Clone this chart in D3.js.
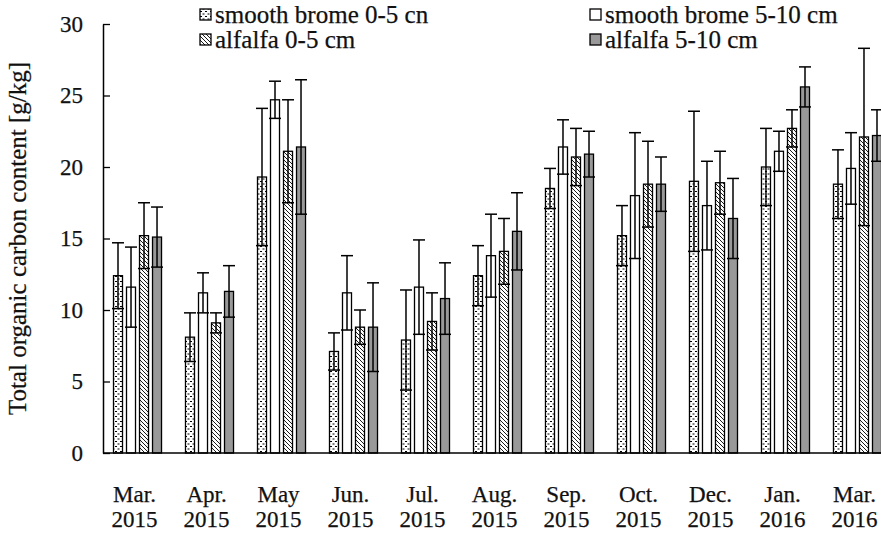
<!DOCTYPE html>
<html>
<head>
<meta charset="utf-8">
<script src="https://cdn.jsdelivr.net/npm/d3@7"></script>
<style>
  body { margin: 0; background: #fff; }
  text { font-family: "Liberation Serif", "Times New Roman", serif; fill: #111; stroke: #111; stroke-width: 0.25px; }
</style>
</head>
<body>
<div id="chart"></div>
<script>
// data (mean and standard deviation, g/kg)
var months = ["Mar.", "Apr.", "May", "Jun.", "Jul.", "Aug.", "Sep.", "Oct.", "Dec.", "Jan.", "Mar."];
var years = ["2015", "2015", "2015", "2015", "2015", "2015", "2015", "2015", "2015", "2016", "2016"];
var seriesNames = ["smooth brome 0-5 cn", "smooth brome 5-10 cm", "alfalfa 0-5 cm", "alfalfa 5-10 cm"];

var sb05Mean = [12.4, 8.1, 19.3, 7.1, 7.9, 12.4, 18.5, 15.2, 19.0, 20.0, 18.8];
var sb05Sd = [2.3, 1.7, 4.8, 1.3, 3.5, 2.1, 1.4, 2.1, 4.9, 2.7, 2.4];
var sb510Mean = [11.6, 11.2, 24.7, 11.2, 11.6, 13.8, 21.4, 18.0, 17.3, 21.1, 19.9];
var sb510Sd = [2.8, 1.4, 1.3, 2.6, 3.3, 2.9, 1.9, 4.4, 3.1, 1.4, 2.5];
var alf05Mean = [15.2, 9.1, 21.1, 8.8, 9.2, 14.1, 20.7, 18.8, 18.9, 22.7, 22.1];
var alf05Sd = [2.3, 0.7, 3.6, 1.2, 2.0, 2.3, 2.0, 3.0, 2.2, 1.3, 6.2];
var alf510Mean = [15.1, 11.3, 21.4, 8.8, 10.8, 15.5, 20.9, 18.8, 16.4, 25.6, 22.2];
var alf510Sd = [2.1, 1.8, 4.7, 3.1, 2.5, 2.7, 1.6, 1.9, 2.8, 1.4, 1.8];

var yTicks = [0, 5, 10, 15, 20, 25, 30];

var CONFIG = { width: 881, height: 533, left: 103, top: 24, bottom: 453, bandStart: 101.5, bandEnd: 893.5 };

var means = [sb05Mean, sb510Mean, alf05Mean, alf510Mean];
var sds = [sb05Sd, sb510Sd, alf05Sd, alf510Sd];
var fills = ["url(#dash)", "#ffffff", "url(#hatch)", "#999999"];

var rows = [];
months.forEach(function (m, i) {
  seriesNames.forEach(function (s, j) {
    rows.push({ group: i, series: j, mean: means[j][i], sd: sds[j][i] });
  });
});

var svg = d3.select("#chart").append("svg")
  .attr("width", CONFIG.width)
  .attr("height", CONFIG.height);

var defs = svg.append("defs");

// small staggered dashes, smooth brome 0-5
var dash = defs.append("pattern")
  .attr("id", "dash")
  .attr("patternUnits", "userSpaceOnUse")
  .attr("width", 5).attr("height", 5);
dash.append("rect").attr("width", 5).attr("height", 5).attr("fill", "#fff");
dash.append("path")
  .attr("d", "M0,1.5h2 M2.5,4h2")
  .attr("stroke", "#000").attr("stroke-width", 1);

// diagonal hatch, alfalfa 0-5
var hatch = defs.append("pattern")
  .attr("id", "hatch")
  .attr("patternUnits", "userSpaceOnUse")
  .attr("width", 4).attr("height", 4);
hatch.append("rect").attr("width", 4).attr("height", 4).attr("fill", "#fff");
hatch.append("path")
  .attr("d", "M0,0L4,4 M-1,3L1,5 M3,-1L5,1")
  .attr("stroke", "#000").attr("stroke-width", 0.9);

var x0 = d3.scaleBand()
  .domain(d3.range(months.length))
  .range([CONFIG.bandStart, CONFIG.bandEnd])
  .paddingInner(0.333)
  .paddingOuter(0.1667);

var x1 = d3.scaleBand()
  .domain(d3.range(seriesNames.length))
  .range([0, x0.bandwidth()])
  .paddingInner(0.308);

var y = d3.scaleLinear()
  .domain([0, 30])
  .range([CONFIG.bottom, CONFIG.top]);

// bars
svg.append("g")
  .selectAll("rect")
  .data(rows)
  .enter().append("rect")
  .attr("x", d => x0(d.group) + x1(d.series))
  .attr("y", d => y(d.mean))
  .attr("width", x1.bandwidth())
  .attr("height", d => y(0) - y(d.mean))
  .attr("fill", d => fills[d.series])
  .attr("stroke", "#000")
  .attr("stroke-width", 1.3);

// error bars
var capW = 12;
var err = svg.append("g")
  .attr("stroke", "#000")
  .attr("stroke-width", 1.5);

err.selectAll("line.v")
  .data(rows)
  .enter().append("line")
  .classed("v", true)
  .attr("x1", d => x0(d.group) + x1(d.series) + x1.bandwidth() / 2)
  .attr("x2", d => x0(d.group) + x1(d.series) + x1.bandwidth() / 2)
  .attr("y1", d => y(d.mean - d.sd))
  .attr("y2", d => y(d.mean + d.sd));

err.selectAll("line.top")
  .data(rows)
  .enter().append("line")
  .classed("top", true)
  .attr("x1", d => x0(d.group) + x1(d.series) + x1.bandwidth() / 2 - capW / 2)
  .attr("x2", d => x0(d.group) + x1(d.series) + x1.bandwidth() / 2 + capW / 2)
  .attr("y1", d => y(d.mean + d.sd))
  .attr("y2", d => y(d.mean + d.sd));

err.selectAll("line.bot")
  .data(rows)
  .enter().append("line")
  .classed("bot", true)
  .attr("x1", d => x0(d.group) + x1(d.series) + x1.bandwidth() / 2 - capW / 2)
  .attr("x2", d => x0(d.group) + x1(d.series) + x1.bandwidth() / 2 + capW / 2)
  .attr("y1", d => y(d.mean - d.sd))
  .attr("y2", d => y(d.mean - d.sd));

// y axis, ticks pointing inward
var yAxis = svg.append("g")
  .attr("transform", "translate(" + CONFIG.left + ",0)")
  .call(d3.axisRight(y).tickValues(yTicks).tickSize(7).tickSizeOuter(0).tickFormat(""));
yAxis.select(".domain").attr("stroke", "#000").attr("stroke-width", 1.5);
yAxis.selectAll(".tick line").attr("stroke", "#000").attr("stroke-width", 1.3);

svg.append("g")
  .selectAll("text")
  .data(yTicks)
  .enter().append("text")
  .attr("x", 83)
  .attr("y", d => y(d))
  .attr("dy", "0.33em")
  .attr("text-anchor", "end")
  .style("font-size", "23px")
  .text(d => d);

svg.append("text")
  .attr("transform", "translate(26," + ((CONFIG.top + CONFIG.bottom) / 2) + ") rotate(-90)")
  .attr("text-anchor", "middle")
  .style("font-size", "25px")
  .text("Total organic carbon content [g/kg]");

// x axis line
svg.append("line")
  .attr("x1", CONFIG.left).attr("x2", CONFIG.width)
  .attr("y1", y(0)).attr("y2", y(0))
  .attr("stroke", "#000").attr("stroke-width", 1.5);

var xl = svg.append("g")
  .selectAll("g")
  .data(months)
  .enter().append("g")
  .attr("transform", (d, i) => "translate(" + (x0(i) + x0.bandwidth() / 2 - 3) + ",0)");
xl.append("text")
  .attr("y", 502)
  .attr("text-anchor", "middle")
  .style("font-size", "23px")
  .text(d => d);
xl.append("text")
  .attr("y", 527)
  .attr("text-anchor", "middle")
  .style("font-size", "23px")
  .text((d, i) => years[i]);

// legend
var legendPos = [[200, 15], [590, 15], [200, 40], [590, 40]];
var legend = svg.append("g")
  .selectAll("g")
  .data(seriesNames)
  .enter().append("g")
  .attr("transform", (d, i) => "translate(" + legendPos[i][0] + "," + legendPos[i][1] + ")");
legend.append("rect")
  .attr("x", 0).attr("y", -6)
  .attr("width", 11).attr("height", 11)
  .attr("fill", (d, i) => fills[i])
  .attr("stroke", "#000")
  .attr("stroke-width", 1.3);
legend.append("text")
  .attr("x", 15)
  .attr("y", 0)
  .attr("dy", "0.33em")
  .style("font-size", "25px")
  .text(d => d);
</script>
</body>
</html>
